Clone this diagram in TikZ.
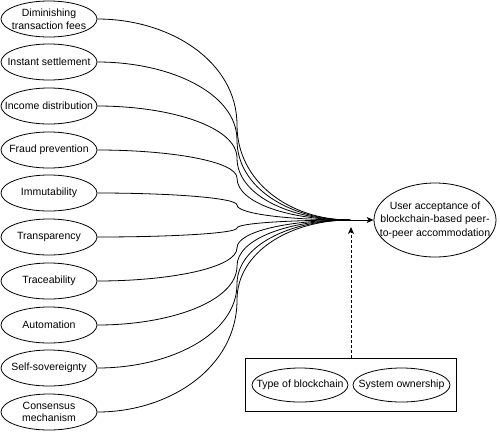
\documentclass[tikz,border=0pt]{standalone}
\usepackage{fontspec}
\setmainfont{Liberation Sans}
\usepackage{tikz}
\usetikzlibrary{arrows.meta, calc, fit, shapes.geometric}

\begin{document}
\begin{tikzpicture}[x=1pt, y=-1pt, line width=0.8pt,
	attr/.style={draw, ellipse, minimum width=96pt, minimum height=36pt, inner xsep=-12pt, inner ysep=-2pt, align=center, font=\fontsize{10.5}{12.5}\selectfont},
	feed/.style={-{Stealth[length=7pt, width=6pt, inset=2pt]}}]
	\useasboundingbox (0,0) rectangle (500,432);
	
	\node[attr] at (49,19) (fees) {Diminishing\\transaction fees};
	\node[attr] at (49,62) (settle) {Instant settlement};
	\node[attr] at (49,106) (income) {Income distribution};
	\node[attr] at (49,150) (fraud) {Fraud prevention};
	\node[attr] at (49,193) (immut) {Immutability};
	\node[attr] at (49,237) (transp) {Transparency};
	\node[attr] at (49,281) (trace) {Traceability};
	\node[attr] at (49,325) (auto) {Automation};
	\node[attr] at (49,368) (sov) {Self-sovereignty};
	\node[attr] at (49,412) (cons) {Consensus\\mechanism};
	
	\node[attr, minimum width=122pt, minimum height=74pt, inner xsep=-17pt, font=\fontsize{10.5}{13.3}\selectfont] at (435,220) (accept) {User acceptance of\\blockchain-based peer-\\to-peer accommodation};
	
	\node[attr, minimum height=34pt] at (300,385) (type) {Type of blockchain};
	\node[attr, minimum width=97pt, minimum height=34pt] at (401.5,385) (own) {System ownership};
	\node[draw, fit=(type) (own), inner xsep=6pt, inner ysep=9pt] (box) {};
	
	\coordinate (hub) at (350,220);
	\coordinate (mod) at (352,227);
	
	% curved edges meet at the hub
	\foreach \src/\sy/\wy in {fees/19/125, settle/62/140, income/106/158, fraud/150/178, immut/193/205, transp/237/228, trace/281/248, auto/325/266, sov/368/284, cons/412/300}{
		\draw (\src.east) .. controls (170,\sy) and (237,{\wy-0.6*(\wy-\sy)}) .. (237,\wy)
			.. controls (237,{\wy+0.6*(220-\wy)}) and (290,220) .. (hub);
	}
	\draw[feed] (hub) -- (accept);
	\draw[feed, dash pattern=on 3pt off 2pt] (box.north) -- (box.north |- mod);
\end{tikzpicture}
\end{document}
